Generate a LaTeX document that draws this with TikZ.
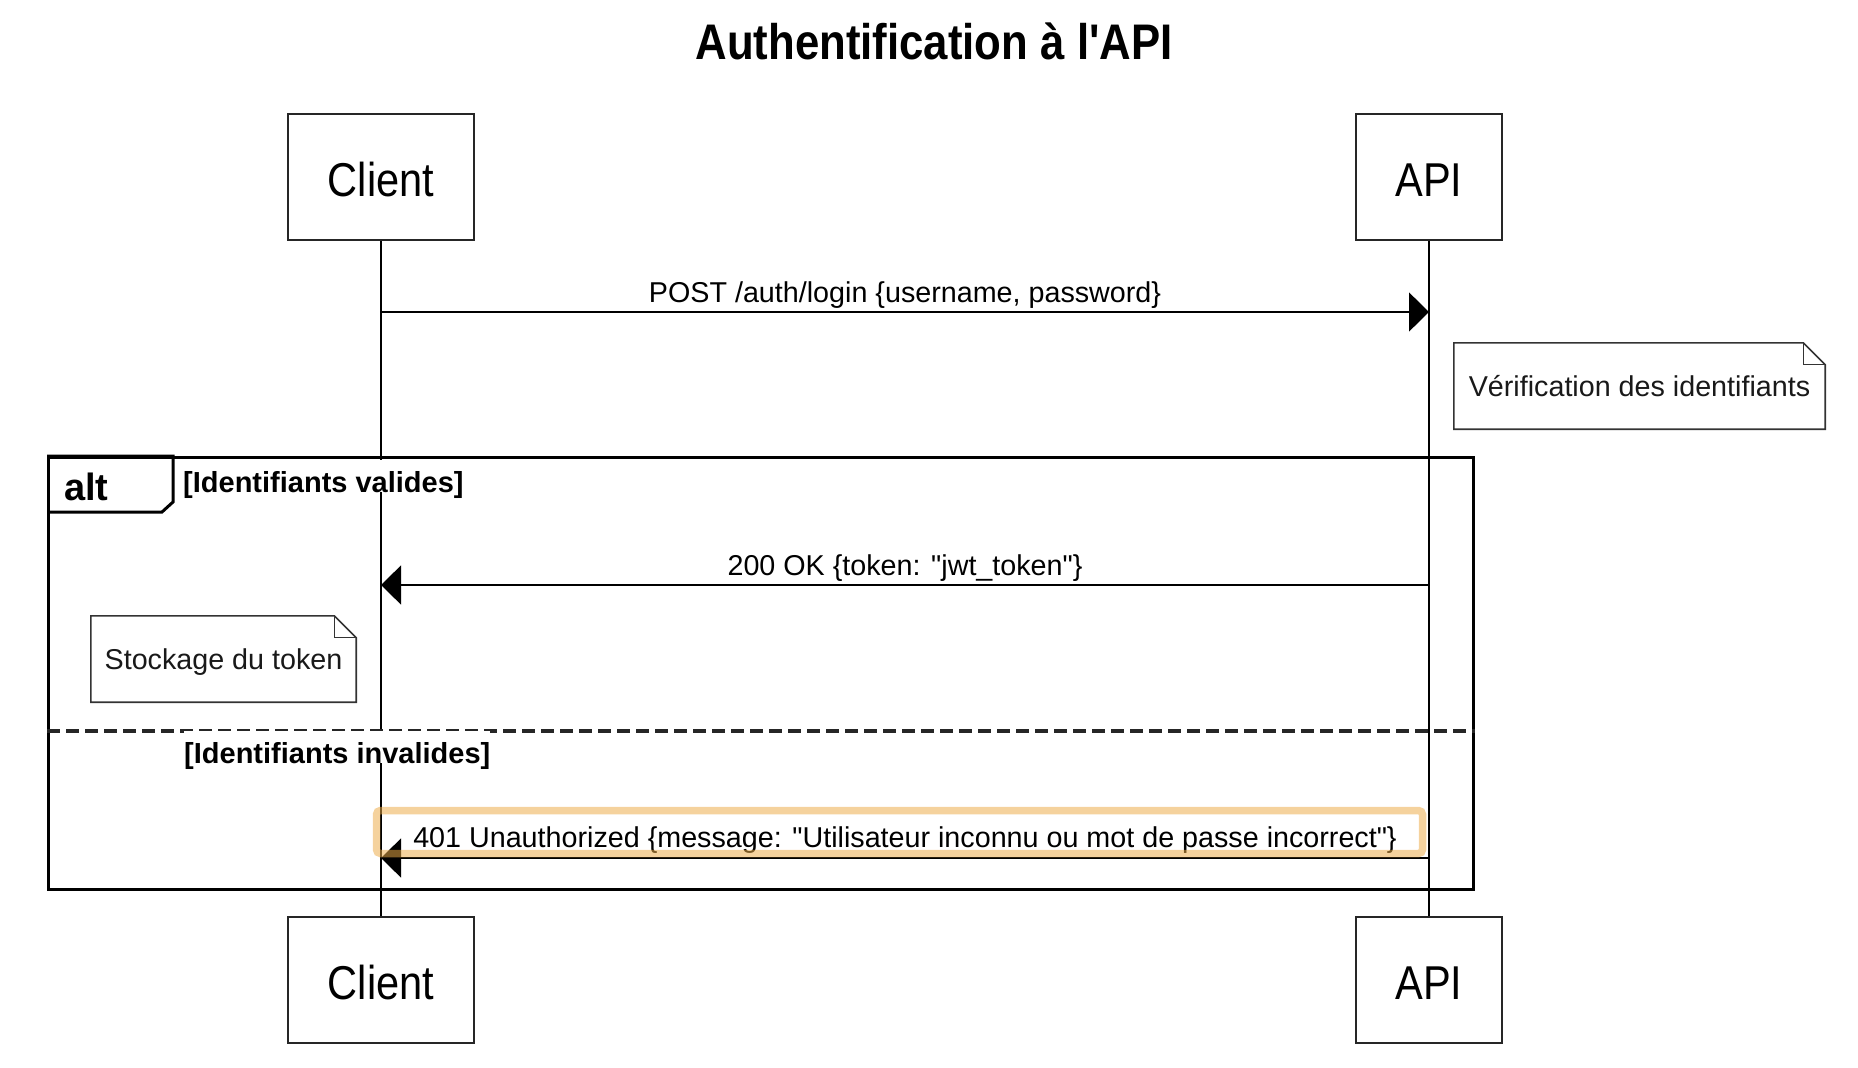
\documentclass[tikz,border=0pt]{standalone}
\usepackage{fontspec}
\setmainfont{Liberation Sans}[Ligatures=TeXOff]
\usepackage{graphicx}
\usetikzlibrary{arrows.meta}
\definecolor{hlorange}{RGB}{236,170,70}
\definecolor{notegray}{RGB}{51,51,51}
\newcommand{\condtext}[1]{\scalebox{0.875}[1]{#1}}
\begin{document}
\begin{tikzpicture}[x=1pt,y=-1pt,
  participant/.style={draw=black!85, line width=1.6pt, fill=white, minimum height=126pt,
    inner sep=0pt, text height=38pt, text depth=0pt, font=\fontsize{47.5}{50}\selectfont},
  lifeline/.style={line width=1.4pt, black},
  msg/.style={line width=1.4pt, -{Triangle[length=20pt,width=39pt]}},
  msglabel/.style={anchor=base, inner sep=0pt, font=\fontsize{28.7}{32}\selectfont},
  notebox/.style={inner sep=0pt, minimum height=86pt, text height=21pt, text depth=0pt,
    font=\fontsize{28.7}{32}\selectfont, text=black!90},
  noteline/.style={draw=notegray, line width=1.6pt},
  framebox/.style={draw=black, line width=3pt},
  sepline/.style={draw=black!85, line width=3.2pt, dash pattern=on 13pt off 6pt},
  guard/.style={anchor=base west, inner sep=0pt, fill=white, text height=32pt, text depth=0pt,
    font=\bfseries\fontsize{29}{32}\selectfont},
  hl/.style={draw=hlorange, draw opacity=0.53, line width=7.5pt, rounded corners=4pt}
]
\useasboundingbox (0,0) rectangle (1858,1068);

% title
\node[anchor=base, inner sep=0pt, font=\bfseries\fontsize{50}{55}\selectfont] (title) at (934,59)
  {\condtext{Authentification à l'API}};

% participants
\node[participant, minimum width=186pt] (ct) at (381,177) {\condtext{Client}};
\node[participant, minimum width=146pt] (at) at (1429,177) {\condtext{API}};
\node[participant, minimum width=186pt] (cb) at (381,980) {\condtext{Client}};
\node[participant, minimum width=146pt] (ab) at (1429,980) {\condtext{API}};

% lifelines
\draw[lifeline] (ct.south) -- (cb.north);
\draw[lifeline] (at.south) -- (ab.north);

% alt frame
\node[framebox, minimum width=1425pt, minimum height=432pt, inner sep=0pt, anchor=north west]
  (altbox) at (47,456) {};
\draw[framebox] (altbox.north west) -| (173,502) -- (162,512) -- (altbox.west |- 0,512);
\node[anchor=base west, inner sep=0pt, font=\bfseries\fontsize{38}{40}\selectfont] (altlbl) at (64,500) {alt};
\draw[sepline] (altbox.west |- 0,731) -- (altbox.east |- 0,731);
\node[guard] (g1) at (183,492) {[Identifiants valides]};
\node[guard] (g2) at (184,763) {[Identifiants invalides]};

% messages
\draw[msg] (ct |- 0,312) -- (at |- 0,312);
\node[msglabel] (m1) at (905,302) {POST /auth/login \{username, password\}};
\draw[msg] (at |- 0,585) -- (ct |- 0,585);
\node[msglabel] (m2) at (905,575) {200 OK \{token: "jwt\_token"\}};
\draw[msg] (at |- 0,858) -- (ct |- 0,858);
\node[msglabel] (m3) at (905,847) {401 Unauthorized \{message: "Utilisateur inconnu ou mot de passe incorrect"\}};

% notes
\node[notebox, minimum width=371pt] (n1) at (1639.5,386) {Vérification des identifiants};
\draw[noteline] (n1.north west) -- ([xshift=-22pt]n1.north east) -- ([yshift=-22pt]n1.north east)
  -- (n1.south east) -- (n1.south west) -- cycle;
\draw[noteline, line width=1.2pt] ([xshift=-22pt]n1.north east) -- ([xshift=-22pt,yshift=-22pt]n1.north east)
  -- ([yshift=-22pt]n1.north east);

\node[notebox, minimum width=265pt] (n2) at (223.5,659) {Stockage du token};
\draw[noteline] (n2.north west) -- ([xshift=-22pt]n2.north east) -- ([yshift=-22pt]n2.north east)
  -- (n2.south east) -- (n2.south west) -- cycle;
\draw[noteline, line width=1.2pt] ([xshift=-22pt]n2.north east) -- ([xshift=-22pt,yshift=-22pt]n2.north east)
  -- ([yshift=-22pt]n2.north east);

% highlight
\draw[hl] (376.5,810.5) rectangle (1422.5,853.5);
\end{tikzpicture}
\end{document}
